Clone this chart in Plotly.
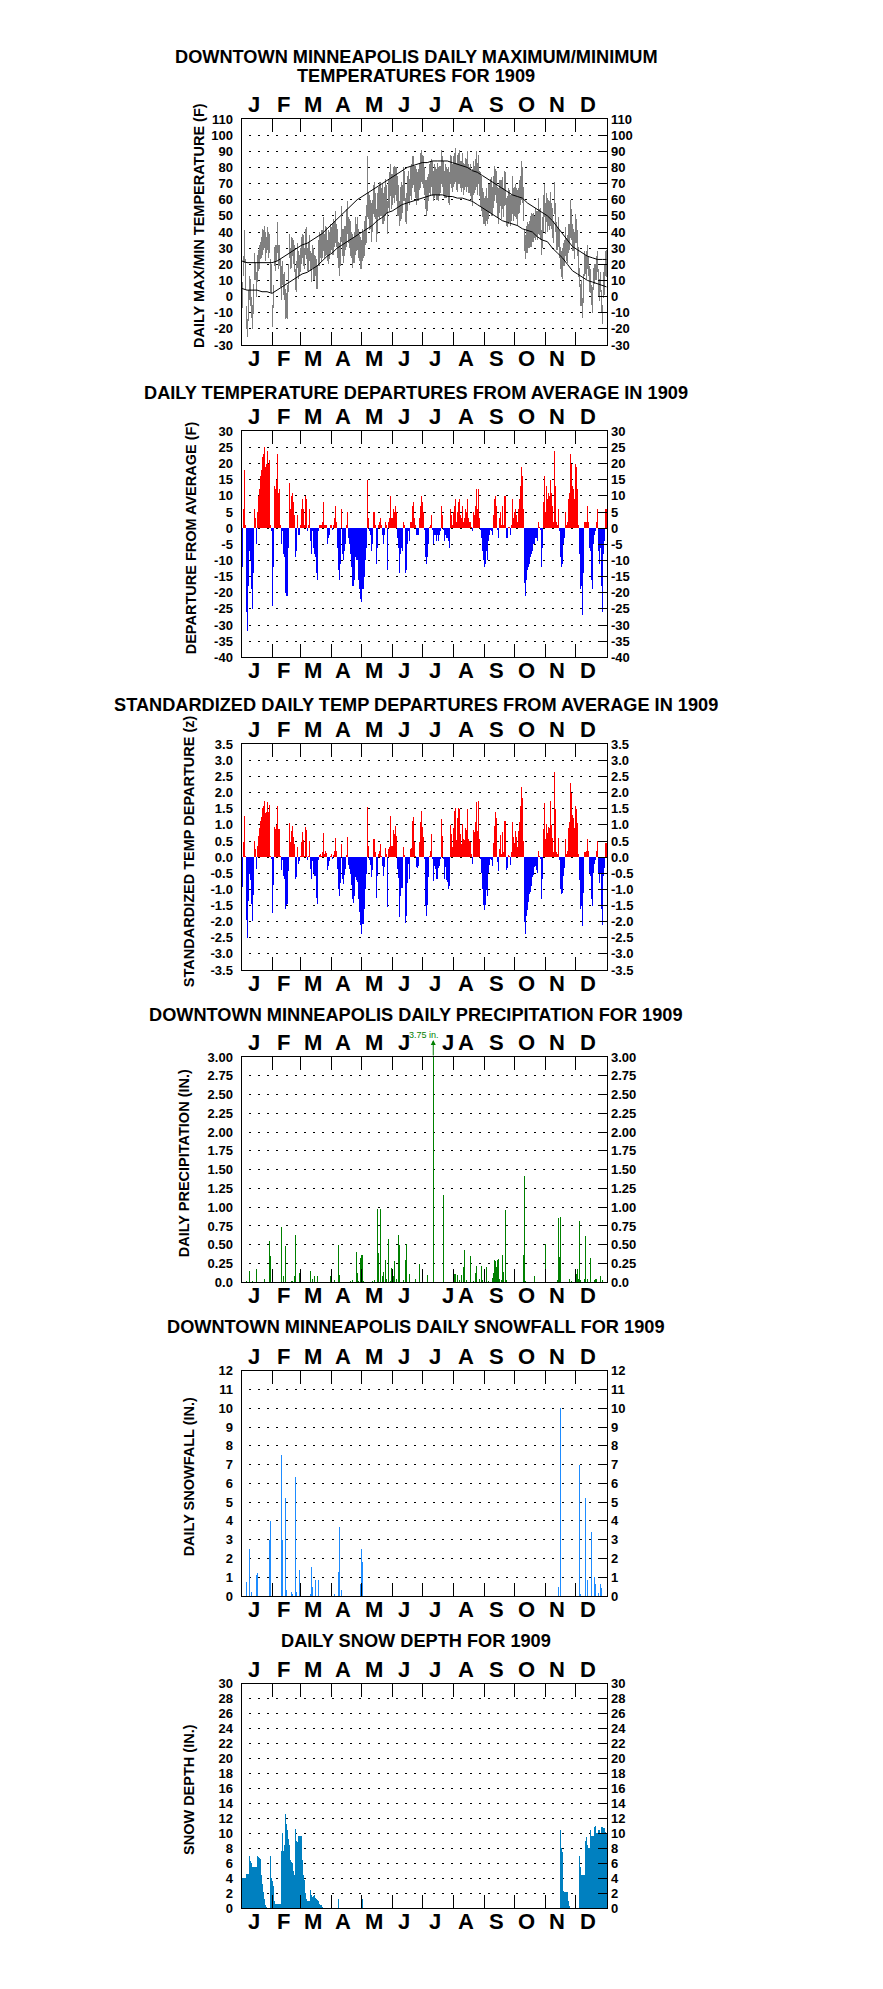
import plotly.graph_objects as go

FONT = "Liberation Sans, Arial, Helvetica, sans-serif"
# the figure fills the whole window (the page margin is removed in post_script)
OX, OY = 0.0, 0.0
FW, FH = 883, 1989

months = ["J", "F", "M", "A", "M", "J", "J", "A", "S", "O", "N", "D"]
month_lengths = [31, 28, 31, 30, 31, 30, 31, 31, 30, 31, 30, 31]

# ---------------- daily max / min temperature (F) ----------------
tmax_jan = [9, 25, 41, 23, -6, -14, 4, 13, 11, 0, -5, 8, 27, 21, 15, 26, 29, 32, 34, 37, 42, 41, 44, 40, 37, 43, 40, 39, 23, 20, -5]
tmax_feb = [7, 31, 32, 32, 46, 32, 32, 23, 19, 22, 14, 15, 5, 2, 7, 20, 39, 30, 37, 36, 35, 32, 17, 22, 33, 28, 26, 30]
tmax_mar = [37, 39, 38, 30, 42, 43, 30, 34, 38, 28, 27, 32, 30, 26, 25, 23, 19, 35, 40, 39, 41, 41, 49, 39, 44, 43, 35, 41, 40, 45, 43]
tmax_apr = [45, 48, 47, 53, 45, 42, 34, 33, 37, 56, 42, 42, 44, 44, 54, 59, 49, 48, 47, 40, 39, 36, 40, 49, 45, 49, 42, 38, 37, 35]
tmax_may = [42, 40, 47, 50, 57, 87, 64, 63, 60, 58, 60, 69, 71, 64, 54, 64, 68, 71, 71, 67, 70, 64, 68, 73, 69, 59, 73, 77, 82, 76, 76]
tmax_jun = [80, 81, 80, 80, 75, 69, 59, 68, 71, 69, 80, 78, 61, 64, 75, 78, 73, 80, 82, 87, 87, 81, 81, 79, 77, 79, 82, 89, 91, 88]
tmax_jul = [87, 80, 72, 72, 74, 76, 82, 84, 85, 84, 78, 82, 80, 79, 83, 80, 81, 81, 91, 87, 84, 78, 82, 80, 79, 80, 77, 88, 87, 82, 87]
tmax_aug = [89, 92, 83, 88, 89, 91, 84, 84, 89, 83, 82, 86, 85, 90, 82, 80, 82, 78, 79, 84, 81, 85, 90, 83, 88, 78, 77, 75, 67, 65, 61]
tmax_sep = [62, 67, 61, 70, 70, 73, 74, 68, 75, 81, 79, 78, 68, 67, 72, 72, 72, 74, 67, 78, 77, 61, 62, 67, 66, 63, 63, 75, 67, 68]
tmax_oct = [70, 67, 66, 67, 72, 75, 84, 80, 68, 41, 38, 44, 46, 45, 47, 50, 52, 51, 52, 50, 55, 53, 53, 61, 54, 55, 41, 49, 63, 70, 58]
tmax_nov = [64, 61, 60, 59, 65, 58, 55, 47, 71, 58, 46, 43, 49, 41, 31, 28, 30, 33, 35, 43, 36, 38, 45, 45, 60, 54, 45, 42, 40, 51]
tmax_dec = [48, 41, 31, 18, 8, 10, -1, 14, 28, 26, 28, 32, 25, 19, 17, 7, 6, 18, 20, 20, 25, 28, 17, 11, 15, 4, -5, 15, 20, 28, 29]

tmin_jan = [-7, 13, 21, 5, -20, -25, -15, -2, -6, -13, -20, -11, 10, 10, 0, 9, 16, 17, 23, 24, 26, 29, 30, 22, 27, 29, 24, 27, 3, 2, -19]
tmin_feb = [-7, 19, 16, 22, 27, 17, 19, 6, -2, 7, 1, -2, -14, -13, -14, 3, 24, 17, 18, 25, 20, 15, 4, 3, 18, 11, 13, 15]
tmin_mar = [20, 24, 19, 17, 26, 23, 16, 16, 22, 16, 9, 18, 10, 10, 13, 5, 5, 19, 19, 24, 22, 24, 28, 24, 25, 26, 22, 20, 23, 27, 29]
tmin_apr = [26, 26, 31, 33, 31, 24, 18, 13, 19, 34, 25, 21, 25, 29, 31, 39, 33, 30, 25, 24, 18, 21, 21, 26, 28, 29, 24, 22, 17, 17]
tmin_may = [22, 24, 25, 32, 33, 49, 48, 41, 42, 34, 40, 51, 49, 48, 34, 39, 49, 48, 50, 50, 45, 45, 47, 50, 52, 39, 55, 53, 62, 54, 57]
tmin_jun = [61, 58, 63, 59, 50, 50, 44, 47, 48, 52, 59, 59, 46, 45, 53, 58, 57, 62, 60, 67, 69, 65, 61, 57, 59, 59, 66, 67, 71, 70]
tmin_jul = [67, 63, 54, 50, 53, 59, 64, 63, 68, 62, 59, 61, 63, 60, 60, 59, 62, 64, 70, 68, 62, 61, 61, 61, 62, 58, 57, 70, 67, 65, 68]
tmin_aug = [70, 71, 66, 65, 70, 70, 67, 65, 67, 63, 66, 68, 65, 68, 64, 64, 62, 60, 56, 63, 64, 66, 68, 63, 70, 62, 56, 53, 49, 45, 45]
tmin_sep = [44, 47, 45, 48, 52, 52, 50, 50, 55, 59, 63, 58, 49, 45, 52, 56, 48, 54, 49, 56, 57, 44, 43, 45, 46, 44, 47, 51, 47, 50]
tmin_oct = [49, 48, 44, 51, 52, 57, 60, 58, 47, 28, 23, 27, 27, 30, 30, 31, 31, 34, 34, 36, 35, 37, 35, 39, 38, 35, 26, 30, 40, 49, 39]
tmin_nov = [46, 40, 44, 41, 44, 42, 36, 33, 51, 40, 29, 29, 31, 24, 17, 12, 11, 19, 19, 25, 22, 21, 27, 29, 36, 35, 28, 28, 23, 33]
tmin_dec = [33, 25, 12, 6, -6, -6, -13, -4, 13, 14, 11, 17, 13, 3, 2, -5, -10, 4, 8, 10, 10, 15, 0, -3, 3, -10, -17, -1, 1, 13, 12]

# normal max / min (read every 5 days)
normal_days = [0, 5, 10, 15, 20, 25, 30, 35, 40, 45, 50, 55, 60, 65, 70, 75, 80, 85, 90, 95,
               100, 105, 110, 115, 120, 125, 130, 135, 140, 145, 150, 155, 160, 165, 170, 175, 180, 185, 190, 195,
               200, 205, 210, 215, 220, 225, 230, 235, 240, 245, 250, 255, 260, 265, 270, 275, 280, 285, 290, 295,
               300, 305, 310, 315, 320, 325, 330, 335, 340, 345, 350, 355, 360, 364]
normal_max = [22, 21, 21, 21, 21, 21, 21, 22, 24, 26, 28, 30, 32, 33, 35, 37, 39, 42, 45, 48,
              51, 54, 57, 60, 62, 64, 66, 68, 70, 72, 74, 76, 78, 80, 81, 82, 83, 83, 84, 84,
              84, 84, 83, 82, 81, 80, 78, 77, 75, 73, 71, 69, 67, 65, 63, 62, 61, 58, 56, 54,
              52, 50, 47, 43, 39, 35, 31, 29, 27, 25, 24, 23, 23, 23]
normal_min = [5, 4, 4, 4, 3, 3, 2, 4, 6, 8, 10, 12, 14, 15, 17, 19, 22, 25, 27, 30,
              32, 34, 36, 38, 40, 42, 44, 47, 49, 52, 53, 55, 57, 58, 59, 60, 61, 62, 63, 63,
              63, 62, 62, 61, 61, 60, 59, 57, 55, 53, 51, 49, 47, 46, 45, 44, 42, 41, 40, 37,
              35, 34, 30, 27, 24, 20, 16, 14, 12, 10, 9, 8, 7, 6]

# ---------------- departures from average (F) ----------------
dep_jan = [-12, 6, 18, 1, -26, -32, -18, -7, -10, -19, -25, -14, 6, 3, -5, 5, 10, 12, 16, 18, 22, 23, 25, 19, 20, 24, 20, 21, 1, -1, -24]
dep_feb = [-12, 13, 12, 15, 23, 11, 12, 1, -5, -1, -8, -9, -20, -21, -21, -6, 14, 6, 10, 11, 8, 4, -9, -7, 4, -2, -2, 1]
dep_mar = [6, 9, 6, 1, 10, 9, -1, 1, 6, -4, -8, -1, -6, -8, -9, -14, -16, -1, 1, 1, 1, 2, 8, 1, 1, 1, -5, -3, -2, 1, 1]
dep_apr = [-0.5, 1, 3, 7, 2, -6, -13, -16, -11, 6, -8, -10, -7, -5, 1, 5, -3, -5, -8, -12, -18, -18, -16, -9, -10, -10, -16, -19, -22, -23]
dep_may = [-19, -19, -15, -10, -6, 15, 3, -1, -2, -7, -5, 5, 5, 1, -11, -6, 1, 2, 3, 1, -2, -5, -2, 2, 1, -13, 2, 3, 10, 3, 3]
dep_jun = [6, 5, 7, 5, -3, -6, -14, -8, -6, -7, 2, 1, -14, -13, -5, -1, -4, 2, 2, 7, 8, 3, 1, -2, -2, -2, 3, 7, 10, 8]
dep_jul = [5, -0.5, -9, -11, -9, -5, 0.5, 1, 4, -0.5, -5, -2, -2, -4, -2, -4, -2, -1, 7, 4, -0.5, -4, -2, -3, -3, -4, -6, 6, 4, 1, 5]
dep_aug = [7, 9, 2, 5, 8, 9, 4, 3, 7, 2, 3, 6, 5, 9, 3, 2, 2, 0.5, -1, 5, 4, 7, 12, 6, 12, 3, -0.5, -3, -7, -10, -12]
dep_sep = [-11, -7, -10, -4, -2, -0.5, -1, -2, 4, 9, 10, 7, -0.5, -3, 3, 5, 1, 7, 1, 10, 10, -3, -3, 0.5, 0.5, -2, 1, 9, 3, 5]
dep_oct = [6, 4, 2, 6, 9, 13, 19, 16, 6, -17, -21, -16, -13, -12, -11, -9, -8, -7, -5, -5, -3, -3, -4, 2, 0.5, -0.5, -12, -6, 8, 16, 5]
dep_nov = [13, 9, 11, 10, 15, 11, 7, 2, 24, 13, 2, 1, 6, -1, -9, -12, -11, -5, -3, 5, 1, 2, 9, 11, 23, 20, 13, 12, 9, 20]
dep_dec = [19, 12, 1, -8, -19, -18, -27, -14, 2, 2, 2, 7, 2, -6, -7, -16, -19, -5, -2, -1, 2, 6, -7, -11, -6, -18, -26, -8, -4, 6, 6]

# ---------------- standardized departures (z) ----------------
z_jan = [-0.93, 0.46, 1.29, 0.05, -1.94, -2.5, -1.35, -0.52, -0.72, -1.44, -1.98, -1.17, 0.5, 0.26, -0.38, 0.36, 0.67, 0.9, 1.13, 1.24, 1.52, 1.6, 1.75, 1.36, 1.39, 1.72, 1.39, 1.63, 0.05, -0.05, -1.72]
z_feb = [-0.86, 0.93, 0.88, 1.0, 1.58, 0.86, 0.88, 0.05, -0.39, -0.1, -0.57, -0.69, -1.6, -1.47, -1.44, -0.43, 1.05, 0.46, 0.8, 0.96, 0.64, 0.41, -0.67, -0.62, 0.31, -0.2, -0.13, 0.05]
z_mar = [0.46, 0.77, 0.52, 0.03, 0.93, 0.85, -0.1, 0.05, 0.5, -0.36, -0.69, -0.12, -0.5, -0.57, -0.59, -1.26, -1.44, -0.1, 0.08, 0.1, 0.05, 0.15, 0.74, 0.1, 0.18, 0.13, -0.41, -0.26, -0.13, 0.05, 0.09]
z_apr = [-0.05, 0.08, 0.2, 0.6, 0.2, -0.36, -0.98, -1.19, -0.8, 0.41, -0.67, -0.82, -0.55, -0.36, 0.08, 0.62, -0.25, -0.36, -0.52, -0.85, -1.29, -1.42, -1.19, -0.62, -0.72, -0.77, -1.29, -1.7, -2.12, -2.37]
z_may = [-2.06, -2.06, -1.6, -1.0, -0.52, 1.55, 0.34, -0.1, -0.24, -0.62, -0.41, 0.55, 0.57, 0.15, -1.26, -0.57, 0.1, 0.2, 0.4, 0.05, -0.28, -0.6, -0.31, 0.28, 0.1, -1.55, 0.26, 0.3, 1.29, 0.34, 0.34]
z_jun = [0.83, 0.72, 0.98, 0.67, -0.36, -0.65, -1.86, -1.21, -0.95, -0.95, 0.31, 0.07, -2.04, -1.81, -0.79, -0.2, -0.67, 0.26, 0.28, 1.11, 1.24, 0.46, 0.05, -0.31, -0.35, -0.29, 0.46, 1.1, 1.42, 0.93]
z_jul = [0.64, -0.05, -1.5, -1.81, -1.48, -0.62, 0.05, 0.2, 0.72, -0.05, -0.75, -0.29, -0.36, -0.67, -0.67, -0.34, -0.26, -0.07, 1.19, 0.67, -0.05, -0.67, -0.31, -0.72, -0.77, -0.98, -0.9, 1.0, 0.72, 0.31, 0.9]
z_aug = [1.44, 1.52, 0.52, 1.2, 1.52, 1.48, 0.72, 0.41, 1.02, 0.57, 0.52, 0.9, 0.85, 1.48, 0.57, 0.5, 0.46, 0.1, -0.2, 0.85, 0.77, 1.08, 1.72, 0.82, 1.75, 0.57, -0.05, -0.49, -0.98, -1.47, -1.63]
z_sep = [-1.48, -1.03, -1.22, -0.49, -0.24, -0.05, -0.1, -0.28, 0.44, 0.98, 1.39, 1.2, -0.15, -0.44, 0.26, 0.7, 0.1, 0.77, 0.15, 1.13, 1.13, -0.41, -0.34, 0.07, 0.05, -0.24, 0.15, 1.1, 0.62, 0.43]
z_oct = [0.8, 0.62, 0.31, 0.8, 1.08, 1.58, 2.17, 1.83, 0.5, -2.01, -2.37, -1.81, -1.65, -1.39, -1.14, -1.08, -0.88, -0.62, -0.54, -0.31, -0.26, -0.41, -0.5, 0.2, 0.05, -0.05, -1.31, -0.67, 0.86, 1.68, 0.57]
z_nov = [1.03, 0.75, 0.95, 0.9, 1.75, 1.0, 0.6, 0.15, 2.65, 1.5, 0.15, 0.1, 0.6, -0.1, -1.0, -1.15, -1.1, -0.6, -0.35, 0.55, 0.1, 0.2, 0.9, 1.1, 2.3, 2.0, 1.3, 1.2, 0.9, 1.6]
z_dec = [1.5, 1.05, 0.1, -0.7, -1.6, -1.5, -2.15, -1.1, 0.15, 0.15, 0.2, 0.55, 0.2, -0.5, -0.6, -1.3, -1.5, -0.5, -0.2, -0.1, 0.2, 0.5, -0.5, -0.8, -0.5, -1.6, -2.1, -0.6, -0.35, 0.45, 0.45]

# ---------------- precipitation (in.), day of year index 0..364 ----------------
precip_days = [4, 7, 10, 14, 22, 27, 28, 39, 41, 43, 49, 50, 52, 53, 57, 68, 70, 72, 75, 88,
               92, 96, 97, 108, 110, 114, 115, 116, 118, 119, 120, 121, 130, 132, 135, 136, 138, 140, 141, 143,
               144, 146, 148, 149, 151, 152, 154, 156, 157, 161, 163, 164, 167, 173, 177, 185, 191, 201, 210, 212,
               213, 215, 217, 219, 221, 222, 224, 228, 231, 233, 234, 237, 239, 240, 244, 246, 250, 251, 252, 253,
               254, 255, 256, 257, 259, 260, 261, 263, 264, 280, 281, 282, 283, 292, 303, 315, 316, 317, 318, 327,
               329, 334, 335, 336, 337, 338, 342, 343, 345, 348, 352, 353, 354, 358, 360]
precip_vals = [0.02, 0.15, 0.02, 0.18, 0.04, 0.55, 0.35, 0.73, 0.08, 0.49, 0.02, 0.02, 0.08, 0.63, 0.12, 0.15, 0.04, 0.08, 0.08, 0.08,
               0.03, 0.5, 0.1, 0.02, 0.03, 0.41, 0.12, 0.02, 0.32, 0.36, 0.36, 0.02, 0.02, 0.03, 0.98, 0.39, 0.98, 0.08, 0.14, 0.3,
               0.05, 0.57, 0.02, 0.19, 0.08, 0.28, 0.05, 0.63, 0.5, 0.03, 0.3, 0.51, 0.11, 0.05, 0.24, 0.1, 3.75, 1.16, 0.01, 0.11,
               0.11, 0.1, 0.03, 0.1, 0.21, 0.43, 0.03, 0.35, 0.02, 0.12, 0.22, 0.05, 0.22, 0.03, 0.2, 0.02, 0.06, 0.12, 0.3, 0.28,
               0.21, 0.3, 0.31, 0.05, 0.03, 0.36, 0.14, 0.96, 0.03, 0.01, 0.36, 1.41, 0.02, 0.08, 0.51, 0.03, 0.86, 0.34, 0.87, 0.04,
               0.02, 0.11, 0.18, 0.05, 0.81, 0.03, 0.05, 0.61, 0.05, 0.32, 0.03, 0.04, 0.04, 0.08, 0.03]
big_rain_label = "3.75 in."

# ---------------- snowfall (in.) ----------------
snow_days = [4, 7, 9, 14, 15, 27, 28, 39, 40, 43, 44, 49, 50, 53, 54, 57, 68, 69, 70, 73,
             76, 92, 96, 97, 99, 118, 119, 120, 316, 318, 337, 338, 343, 345, 349, 352, 353, 356, 358, 359]
snow_vals = [0.75, 2.5, 0.23, 1.1, 1.2, 3.0, 4.0, 7.5, 3.0, 5.2, 0.3, 0.2, 0.1, 6.35, 0.2, 1.4, 0.1, 1.55, 0.5, 0.85,
             0.85, 0.1, 1.3, 3.7, 0.3, 0.65, 2.5, 1.8, 0.5, 10.0, 7.0, 0.1, 5.2, 0.85, 3.4, 1.0, 0.65, 0.15, 0.65, 0.4]

# ---------------- snow depth (in.) ----------------
depth_days_early = list(range(0, 82))
depth_early = [4, 4, 4, 4, 4.6, 4.6, 4.6, 7, 6.3, 6, 5.5, 5.5, 5.5, 5.5, 5.5, 7, 6.8, 6.7, 6.6, 4.5,
               3.2, 2.2, 1.2, 0.5, 0.2, 0, 0, 0, 7, 4.1, 3.7, 3, 1, 0.6, 0.6, 0.6, 0.6, 0.6, 0.6, 7.7,
               10, 7.7, 8.5, 12.6, 11.3, 10.5, 9.3, 8.5, 6.5, 6.2, 6, 5, 4.5, 10.6, 9, 8.8, 9.7, 9.7, 9.7, 9.7,
               6.5, 4.5, 3.8, 2, 1.2, 1, 1, 1, 2.4, 1.8, 1.5, 1.6, 1.8, 1.4, 1.3, 1.1, 1, 0.6, 0.5, 0.4,
               0.2, 0.1]
depth_days_spring = [96, 120]
depth_spring = [1.3, 1.3]
depth_days_late = list(range(318, 365))
depth_late = [10.5, 8, 7.5, 2.3, 2.2, 2.2, 2.2, 2.2, 1, 0.3, 0, 0, 0, 0, 0, 0, 0, 0, 0, 7,
              5.5, 4.5, 4.4, 4.4, 4.4, 9, 9.5, 8.5, 8.1, 8.1, 10.5, 9.7, 9.6, 9.6, 10.8, 11, 10, 10, 10.4, 10.4,
              10, 10.8, 10.8, 10.7, 10.7, 10.2, 10]

# ---------------- assemble ----------------
tmax = tmax_jan + tmax_feb + tmax_mar + tmax_apr + tmax_may + tmax_jun + tmax_jul + tmax_aug + tmax_sep + tmax_oct + tmax_nov + tmax_dec
tmin = tmin_jan + tmin_feb + tmin_mar + tmin_apr + tmin_may + tmin_jun + tmin_jul + tmin_aug + tmin_sep + tmin_oct + tmin_nov + tmin_dec
dep = dep_jan + dep_feb + dep_mar + dep_apr + dep_may + dep_jun + dep_jul + dep_aug + dep_sep + dep_oct + dep_nov + dep_dec
zdep = z_jan + z_feb + z_mar + z_apr + z_may + z_jun + z_jul + z_aug + z_sep + z_oct + z_nov + z_dec
days = list(range(len(tmax)))
depth_days = depth_days_early + depth_days_spring + depth_days_late
depth_vals = depth_early + depth_spring + depth_late

month_starts = [sum(month_lengths[:i]) for i in range(12)]


def px2x(px):
    return (px - OX) / FW


def py2y(py):
    return 1 - (py - OY) / FH


# ---------------- layout geometry (window pixels) ----------------
X0, X1 = 241.5, 607.0
DOTS = "0px,7.2px,2px,0px"
RED, BLUE = "#FF0000", "#0000FF"
BARW = 1.0

p3_ticks = [-3.5 + 0.5 * k for k in range(15)]
p4_ticks = [0.25 * k for k in range(13)]
panels = [
    dict(top=119.0, bot=345.0, lo=-30, hi=110, tv=list(range(-30, 111, 10)), tt=[str(v) for v in range(-30, 111, 10)],
         title=["DOWNTOWN MINNEAPOLIS DAILY MAXIMUM/MINIMUM", "TEMPERATURES FOR 1909"], title_y=[56.7, 76.0],
         ytitle="DAILY MAX/MIN TEMPERATURE (F)", ytx=199.0),
    dict(top=431.3, bot=657.3, lo=-40, hi=30, tv=list(range(-40, 31, 5)), tt=[str(v) for v in range(-40, 31, 5)],
         title=["DAILY TEMPERATURE DEPARTURES FROM AVERAGE IN 1909"], title_y=[392.7],
         ytitle="DEPARTURE FROM AVERAGE (F)", ytx=191.0),
    dict(top=744.3, bot=970.0, lo=-3.5, hi=3.5, tv=p3_ticks, tt=["%.1f" % v for v in p3_ticks],
         title=["STANDARDIZED DAILY TEMP DEPARTURES FROM AVERAGE IN 1909"], title_y=[705.0],
         ytitle="STANDARDIZED TEMP DEPARTURE (z)", ytx=189.0),
    dict(top=1057.0, bot=1282.3, lo=0, hi=3.0, tv=p4_ticks, tt=["0.0"] + ["%.2f" % v for v in p4_ticks[1:]],
         title=["DOWNTOWN MINNEAPOLIS DAILY PRECIPITATION FOR 1909"], title_y=[1015.0],
         ytitle="DAILY PRECIPITATION (IN.)", ytx=183.5),
    dict(top=1370.7, bot=1596.0, lo=0, hi=12, tv=list(range(0, 13)), tt=[str(v) for v in range(0, 13)],
         title=["DOWNTOWN MINNEAPOLIS DAILY SNOWFALL FOR 1909"], title_y=[1327.3],
         ytitle="DAILY SNOWFALL (IN.)", ytx=189.0),
    dict(top=1683.7, bot=1908.3, lo=0, hi=30, tv=list(range(0, 31, 2)), tt=[str(v) for v in range(0, 31, 2)],
         title=["DAILY SNOW DEPTH FOR 1909"], title_y=[1640.7],
         ytitle="SNOW DEPTH (IN.)", ytx=189.0),
]

fig = go.Figure()


def ax(i):
    return ("x" if i == 1 else "x%d" % i), ("y" if i == 1 else "y%d" % i)


# panel 1: gray daily max/min bars plus normal lines
xa, ya = ax(1)
fig.add_trace(go.Bar(x=days, y=[a - b for a, b in zip(tmax, tmin)], base=tmin, width=BARW,
                     marker=dict(color="#808080", line=dict(width=0)), xaxis=xa, yaxis=ya, hoverinfo="skip"))
fig.add_trace(go.Scatter(x=normal_days, y=normal_max, mode="lines", line=dict(color="black", width=1),
                         xaxis=xa, yaxis=ya, hoverinfo="skip"))
fig.add_trace(go.Scatter(x=normal_days, y=normal_min, mode="lines", line=dict(color="black", width=1),
                         xaxis=xa, yaxis=ya, hoverinfo="skip"))
# panel 2
xa, ya = ax(2)
fig.add_trace(go.Bar(x=days, y=dep, width=BARW,
                     marker=dict(color=[RED if v >= 0 else BLUE for v in dep], line=dict(width=0)),
                     xaxis=xa, yaxis=ya, hoverinfo="skip"))
# panel 3
xa, ya = ax(3)
fig.add_trace(go.Bar(x=days, y=zdep, width=BARW,
                     marker=dict(color=[RED if v >= 0 else BLUE for v in zdep], line=dict(width=0)),
                     xaxis=xa, yaxis=ya, hoverinfo="skip"))
# panel 4
xa, ya = ax(4)
fig.add_trace(go.Bar(x=precip_days, y=precip_vals, width=BARW,
                     marker=dict(color="#008000", line=dict(width=0)), xaxis=xa, yaxis=ya, hoverinfo="skip"))
# panel 5
xa, ya = ax(5)
fig.add_trace(go.Bar(x=snow_days, y=snow_vals, width=BARW,
                     marker=dict(color="#1E8CFF", line=dict(width=0)), xaxis=xa, yaxis=ya, hoverinfo="skip"))
# panel 6
xa, ya = ax(6)
fig.add_trace(go.Bar(x=depth_days, y=depth_vals, width=BARW,
                     marker=dict(color="#0080C0", line=dict(width=0)), xaxis=xa, yaxis=ya, hoverinfo="skip"))

# invisible anchor traces so the right-hand axes are drawn
for i, p in enumerate(panels, start=1):
    xa, _ = ax(i)
    fig.add_trace(go.Scatter(x=[0], y=[p["lo"]], mode="markers", marker=dict(opacity=0, size=1),
                             xaxis=xa, yaxis="y%d" % (i + 6), hoverinfo="skip", showlegend=False))

tickfont = dict(family=FONT, size=13, color="black", weight="bold")
layout = dict(width=FW, height=FH, autosize=False, margin=dict(l=0, r=0, t=0, b=0, pad=0),
              paper_bgcolor="white", plot_bgcolor="white", showlegend=False,
              barmode="overlay", bargap=0, font=dict(family=FONT, color="black"))
annotations = []

for i, p in enumerate(panels, start=1):
    sfx = "" if i == 1 else str(i)
    layout["xaxis" + sfx] = dict(domain=[px2x(X0), px2x(X1)], anchor="y" + sfx, range=[-0.5, 364.5],
                                 tickmode="array", tickvals=[s - 0.5 for s in month_starts[1:]],
                                 ticks="inside", ticklen=13, tickwidth=1, tickcolor="black",
                                 showticklabels=False, showline=True, linecolor="black", linewidth=1,
                                 mirror="ticks", showgrid=False, zeroline=False, fixedrange=True,
                                 automargin=False)
    layout["yaxis" + sfx] = dict(domain=[py2y(p["bot"]), py2y(p["top"])], anchor="x" + sfx,
                                 range=[p["lo"], p["hi"]], tickmode="array", tickvals=p["tv"], ticktext=p["tt"],
                                 ticks="outside", ticklen=5, tickcolor="rgba(0,0,0,0)",
                                 showline=True, linecolor="black", linewidth=1, mirror=True,
                                 showgrid=True, gridcolor="black", gridwidth=1, griddash=DOTS,
                                 zeroline=False, tickfont=tickfont, fixedrange=True, automargin=False)
    layout["yaxis%d" % (i + 6)] = dict(overlaying="y" + sfx, side="right", anchor="x" + sfx,
                                       range=[p["lo"], p["hi"]], tickmode="array", tickvals=p["tv"], ticktext=p["tt"],
                                       ticks="inside", ticklen=9, tickwidth=1, tickcolor="black",
                                       ticklabelstandoff=3,
                                       showline=False, showgrid=False, zeroline=False,
                                       tickfont=tickfont, fixedrange=True, automargin=False)
    # titles
    for t, ty in zip(p["title"], p["title_y"]):
        annotations.append(dict(text=t, x=px2x(416), y=py2y(ty), xref="paper", yref="paper",
                                xanchor="center", yanchor="middle", showarrow=False,
                                font=dict(family=FONT, size=18.2, color="black", weight="bold")))
    # y-axis title
    annotations.append(dict(text=p["ytitle"], x=px2x(p["ytx"]), y=py2y((p["top"] + p["bot"]) / 2 - 6),
                            xref="paper", yref="paper", xanchor="center", yanchor="middle",
                            textangle=-90, showarrow=False,
                            font=dict(family=FONT, size=14.5, color="black", weight="bold")))
    # month letters top and bottom
    for m, lab in enumerate(months):
        xm = month_starts[m] + month_lengths[m] / 2 - 0.5 - 3.5
        if i == 4 and m == 6:
            xm += 13
        for ypx in (p["top"] - 14.5, p["bot"] + 13.5):
            annotations.append(dict(text=lab, x=xm, y=py2y(ypx), xref="x" + sfx, yref="paper",
                                    xanchor="center", yanchor="middle", showarrow=False,
                                    font=dict(family=FONT, size=22, color="black", weight="bold")))

# off-scale precipitation marker
big_day = precip_days[precip_vals.index(max(precip_vals))]
annotations.append(dict(x=big_day, y=3.0 + 17 / 75.1, ax=big_day, ay=3.0, xref="x4", yref="y4",
                        axref="x4", ayref="y4", text="", showarrow=True, arrowhead=2, arrowsize=1,
                        arrowwidth=1, arrowcolor="#008000"))
annotations.append(dict(text=big_rain_label, x=big_day - 9, y=py2y(1027.5), xref="x4", yref="paper",
                        xanchor="center", yanchor="top", showarrow=False,
                        font=dict(family=FONT, size=9, color="#008000")))

layout["annotations"] = annotations
fig.update_layout(**layout)
fig.write_html("out.html", config=dict(displayModeBar=False, staticPlot=True),
               post_script="document.body.style.margin='0px';document.body.style.overflow='hidden';")
